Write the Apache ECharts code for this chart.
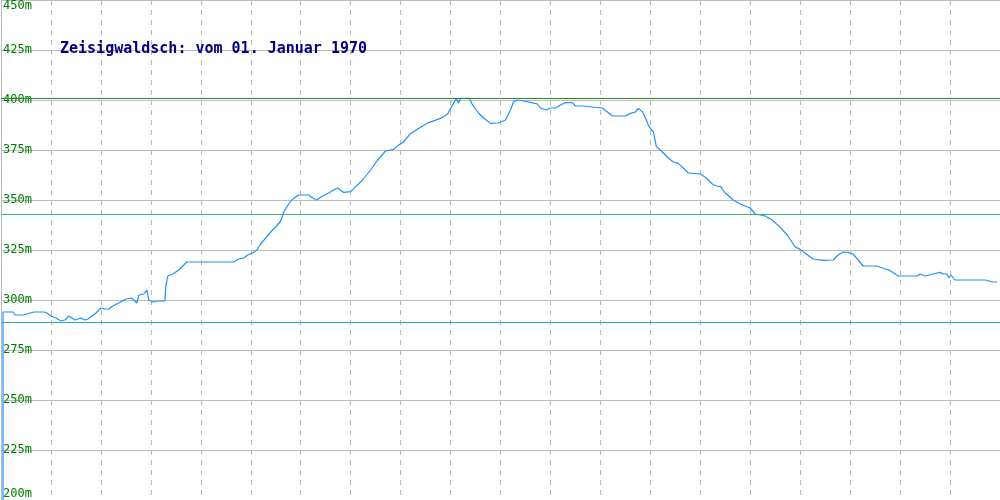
<!DOCTYPE html>
<html>
<head>
<meta charset="utf-8">
<script src="https://cdn.jsdelivr.net/npm/echarts@6/dist/echarts.min.js"></script>
<style>html,body{margin:0;padding:0;background:#fff}#c{width:1000px;height:500px}</style>
</head>
<body>
<div id="c"></div>
<script>
const titleText = 'Zeisigwaldsch: vom 01. Januar 1970';
const yTicks = [200, 225, 250, 275, 300, 325, 350, 375, 400, 425, 450];
const distance = [2,2,12,14,22,24,33,43,46,50,55,60,64,68,70,74,80,84,87,90,95,100,103,108,112,118,125,130,133,136,138,140,143,146,148,152,158,160,164,165,167,172,178,182,186,208,210,212,233,238,243,247,252,256,260,265,270,275,280,283,288,292,298,308,312,316,322,328,333,337,343,350,352,362,370,377,385,393,398,403,410,418,428,440,447,452,456,458,460,469,472,478,483,490,498,505,510,513,517,523,530,537,540,546,550,555,560,565,572,575,582,584,602,607,612,625,630,635,638,642,646,648,650,653,656,660,668,673,678,683,688,700,706,712,716,720,725,733,740,750,755,765,772,780,787,791,795,800,806,813,823,825,833,838,843,848,853,858,863,877,878,885,890,895,898,917,920,925,933,940,943,947,949,951,953,955,960,962,965,985,987,993,995,997];
const elevation = [200,294,294,292.5,292.5,293.5,294,294,293.5,292,291,289.5,290,292,291,290,291,290,290.5,291.5,293.5,296,295.5,295.5,297,298.5,300.5,301,300,298.5,302.5,301.5,303,305,300,299,299.5,298.5,299.5,307,312,313,315,317,319,319,320,319,319,320.5,321,322.5,323.5,325,328,331,334,336.5,339.5,344,348,350.5,352.5,352.5,351,350,352,353.5,355,356,353.8,354.2,353.8,360,365,370,374.5,375.3,377.5,379,383.3,385.8,388.7,390.8,393,397.5,400.8,398.5,400.8,400.8,397.5,393.5,391,388.3,388.5,390,395,399,400,399.5,398.8,398,396,395,396,396,397.5,398.7,398.7,397,397,396,396,394,392,392,393.3,394,395.8,394.2,390,387.5,385.8,384,376.7,375,371,369,368.3,366,363.5,363,361,358,357,356.8,353.5,350,348,346,343,342,340,336.3,332.5,329.5,326.5,325.3,323,320.5,319.8,320.3,320,322.5,324,323.8,323,320,317,317,316,315.5,314.8,313,312,312,313,312,313,313.8,313,313,311,312.5,312,310,310,309,310,310,309,309,308,309];
const refLevels = [401, 343, 289];
const refColors = ['#228b22', '#3cb371', '#20b2aa'];

const data = distance.map((d, i) => [d, elevation[i]]);
const chart = echarts.init(document.getElementById('c'));
chart.setOption({
  animation: false,
  title: {
    text: titleText, left: 60, top: 42, padding: 0,
    textStyle: {fontFamily: 'DejaVu Sans Mono', fontSize: 15, fontWeight: 'bold', color: '#000080'}
  },
  grid: {left: 0, right: 0, top: 0, bottom: 0, containLabel: false},
  xAxis: {
    type: 'value', min: 0, max: 1000, interval: 50,
    axisLine: {show: true, lineStyle: {color: '#bbbbbb'}},
    axisTick: {show: false}, axisLabel: {show: false},
    splitLine: {show: true, showMinLine: false, showMaxLine: false, lineStyle: {color: '#bbbbbb', type: [5, 5]}}
  },
  yAxis: [{
    type: 'value', min: yTicks[0], max: yTicks[yTicks.length - 1], interval: 25,
    axisLine: {show: true, lineStyle: {color: '#bbbbbb'}},
    axisTick: {show: false},
    splitLine: {show: true, lineStyle: {color: '#bbbbbb'}},
    axisLabel: {
      inside: true, margin: 2, color: '#008000', fontFamily: 'DejaVu Sans Mono', fontSize: 12,
      formatter: v => v === 450 ? '{t|' + v + 'm}' : (v === 200 ? '{b|' + v + 'm}' : v + 'm'),
      rich: {
        t: {padding: [12, 0, 0, 0], color: '#008000', fontFamily: 'DejaVu Sans Mono', fontSize: 12},
        b: {padding: [0, 0, 12, 0], color: '#008000', fontFamily: 'DejaVu Sans Mono', fontSize: 12}
      }
    }
  }, {
    type: 'value', min: 200, max: 450, position: 'right',
    axisLine: {show: true, lineStyle: {color: '#bbbbbb'}},
    axisTick: {show: false}, axisLabel: {show: false}, splitLine: {show: false}
  }],
  series: [{
    type: 'line', data: data, showSymbol: false, symbol: 'none',
    lineStyle: {color: '#1e90ff', width: 1.2}, z: 3,
    markLine: {
      silent: true, symbol: 'none', label: {show: false},
      data: refLevels.map((v, i) => ({yAxis: v, lineStyle: {color: refColors[i], type: 'solid', width: 1}}))
    }
  }]
});
</script>
</body>
</html>
